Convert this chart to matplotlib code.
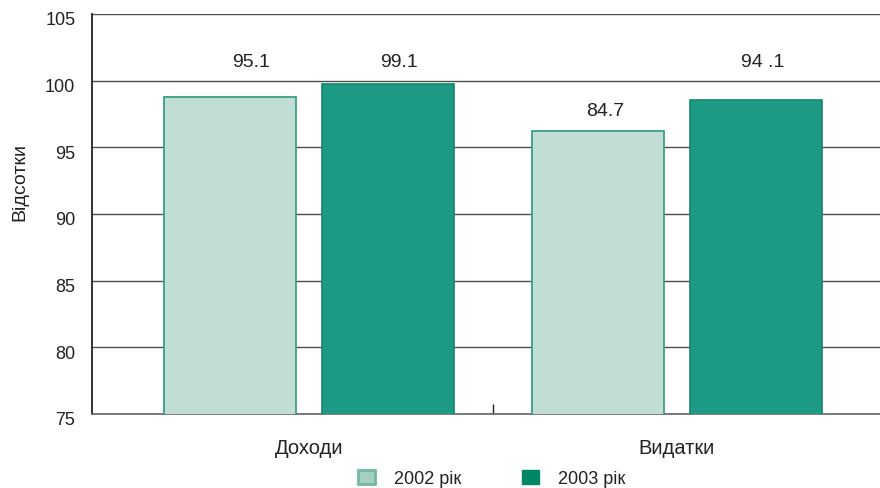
import matplotlib
matplotlib.use("Agg")
import matplotlib.pyplot as plt
from matplotlib.patches import Patch
from matplotlib.transforms import ScaledTranslation
import numpy as np

plt.rcParams['font.family'] = ['Liberation Sans', 'DejaVu Sans']

categories = ['Доходи', 'Видатки']
series_names = ['2002 рік', '2003 рік']
bar_2002 = [98.8, 96.2]
bar_2003 = [99.75, 98.55]
label_2002 = ['95.1', '84.7']
label_2003 = ['99.1', '94 .1']
yticks = [75, 80, 85, 90, 95, 100, 105]

# label placement (positions only)
label_x_2002 = [-0.158, 0.804]
label_x_2003 = [0.245, 1.234]
label_y_2002 = [101.1, 97.42]
label_y_2003 = [101.1, 101.1]

fig = plt.figure(figsize=(8.8, 4.89), dpi=100)
W, H = 880, 489
ax = fig.add_axes([92 / W, 1 - 415 / H, 788 / W, 400 / H])

x = np.arange(len(categories))
width = 0.36
off = 0.215
ax.bar(x - off, bar_2002, width, color='#c2ddd5', edgecolor='#2a9a7c', linewidth=1.2, zorder=3)
ax.bar(x + off, bar_2003, width, color='#1e9b84', edgecolor='#13896f', linewidth=1.2, zorder=3)

for xi, yi, t in zip(label_x_2002, label_y_2002, label_2002):
    ax.text(xi, yi, t, ha='center', va='baseline', fontsize=14, color='#222222')
for xi, yi, t in zip(label_x_2003, label_y_2003, label_2003):
    ax.text(xi, yi, t, ha='center', va='baseline', fontsize=14, color='#222222')

ax.set_ylim(75, 105)
ax.set_xlim(-0.590, 1.552)
ax.set_yticks(yticks)
ax.yaxis.grid(True, color='#4d4d4d', linewidth=1.0, zorder=0)
ax.set_axisbelow(True)

ax.set_xticks(x)
ax.set_xticklabels(categories, fontsize=14.5, color='#222222')
ax.tick_params(axis='x', which='major', length=0, pad=17)
ax.set_xticks([0.5], minor=True)
ax.tick_params(axis='x', which='minor', direction='in', length=7, width=1, color='#222222')
ax.tick_params(axis='y', length=1, pad=11, labelsize=13, labelcolor='#222222', color='#4d4d4d')

for lab in ax.get_yticklabels():
    lab.set_transform(lab.get_transform() + ScaledTranslation(0, -0.04, fig.dpi_scale_trans))

for s in ['top', 'right']:
    ax.spines[s].set_visible(False)
ax.spines['left'].set_color('#111111')
ax.spines['left'].set_linewidth(1.2)
ax.spines['bottom'].set_color('#666666')
ax.spines['bottom'].set_linewidth(1.2)

fig.text(20 / W, 1 - 182 / H, 'Відсотки', rotation=90, ha='center', va='center',
         fontsize=14, color='#222222')

handles = [Patch(facecolor='#a6cfc2', edgecolor='#6fb8a4', linewidth=2),
           Patch(facecolor='#008566', edgecolor='#008566', linewidth=1)]
fig.legend(handles, series_names, loc='center', bbox_to_anchor=(491.5 / W, 1 - 479.5 / H),
           ncol=2, frameon=False, fontsize=13, handlelength=0.94, handleheight=0.83,
           handletextpad=1.05, columnspacing=3.38, borderpad=0, labelcolor='#222222')

fig.savefig('out.png', dpi=100)
